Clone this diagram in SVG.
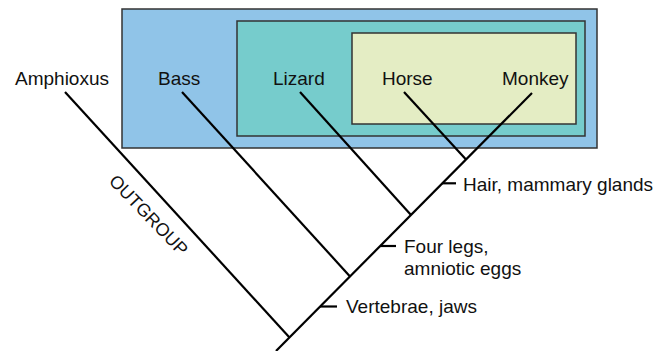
<svg xmlns="http://www.w3.org/2000/svg" width="668" height="351" viewBox="0 0 668 351">
<style>
.box{stroke:#333;stroke-width:1.5}
.lbl{font-family:"Liberation Sans",Arial,sans-serif;font-size:19px;fill:#111}
.br{stroke:#000;stroke-width:2.2;fill:none;stroke-linecap:butt}
</style>
<rect width="668" height="351" fill="#fff"/>
<g id="clade-vertebrates"><rect class="box" x="122" y="9" width="475" height="139" fill="#90C4E8"/></g>
<g id="clade-amniotes"><rect class="box" x="237" y="21" width="348" height="115" fill="#76CCCC"/></g>
<g id="clade-mammals"><rect class="box" x="352" y="33" width="224" height="91" fill="#E4EDC4"/></g>
<g id="node-amphioxus"><text class="lbl" x="15" y="85">Amphioxus</text></g>
<g id="node-bass"><text class="lbl" x="158" y="85">Bass</text></g>
<g id="node-lizard"><text class="lbl" x="273" y="85">Lizard</text></g>
<g id="node-horse"><text class="lbl" x="382" y="85">Horse</text></g>
<g id="node-monkey"><text class="lbl" x="502" y="85">Monkey</text></g>
<g id="connectors">
<line class="br" x1="276" y1="351" x2="532" y2="93"/>
<line class="br" x1="65" y1="92" x2="289.5" y2="337.4"/>
<line class="br" x1="182" y1="92" x2="350" y2="276.4"/>
<line class="br" x1="300" y1="92" x2="411" y2="214.9"/>
<line class="br" x1="404" y1="92" x2="466" y2="159.5"/>
<line class="br" x1="320" y1="306.5" x2="337" y2="306.5"/>
<line class="br" x1="380" y1="246" x2="396" y2="246"/>
<line class="br" x1="442" y1="183.3" x2="456" y2="183.3"/>
</g>
<g id="label-outgroup"><text class="lbl" style="font-size:18px" transform="translate(108 182) rotate(46)">OUTGROUP</text></g>
<g id="label-vertebrae"><text class="lbl" x="346" y="313">Vertebrae, jaws</text></g>
<g id="label-fourlegs"><text class="lbl" x="404" y="253">Four legs,</text><text class="lbl" x="404" y="275">amniotic eggs</text></g>
<g id="label-hair"><text class="lbl" x="463" y="191">Hair, mammary glands</text></g>
</svg>
